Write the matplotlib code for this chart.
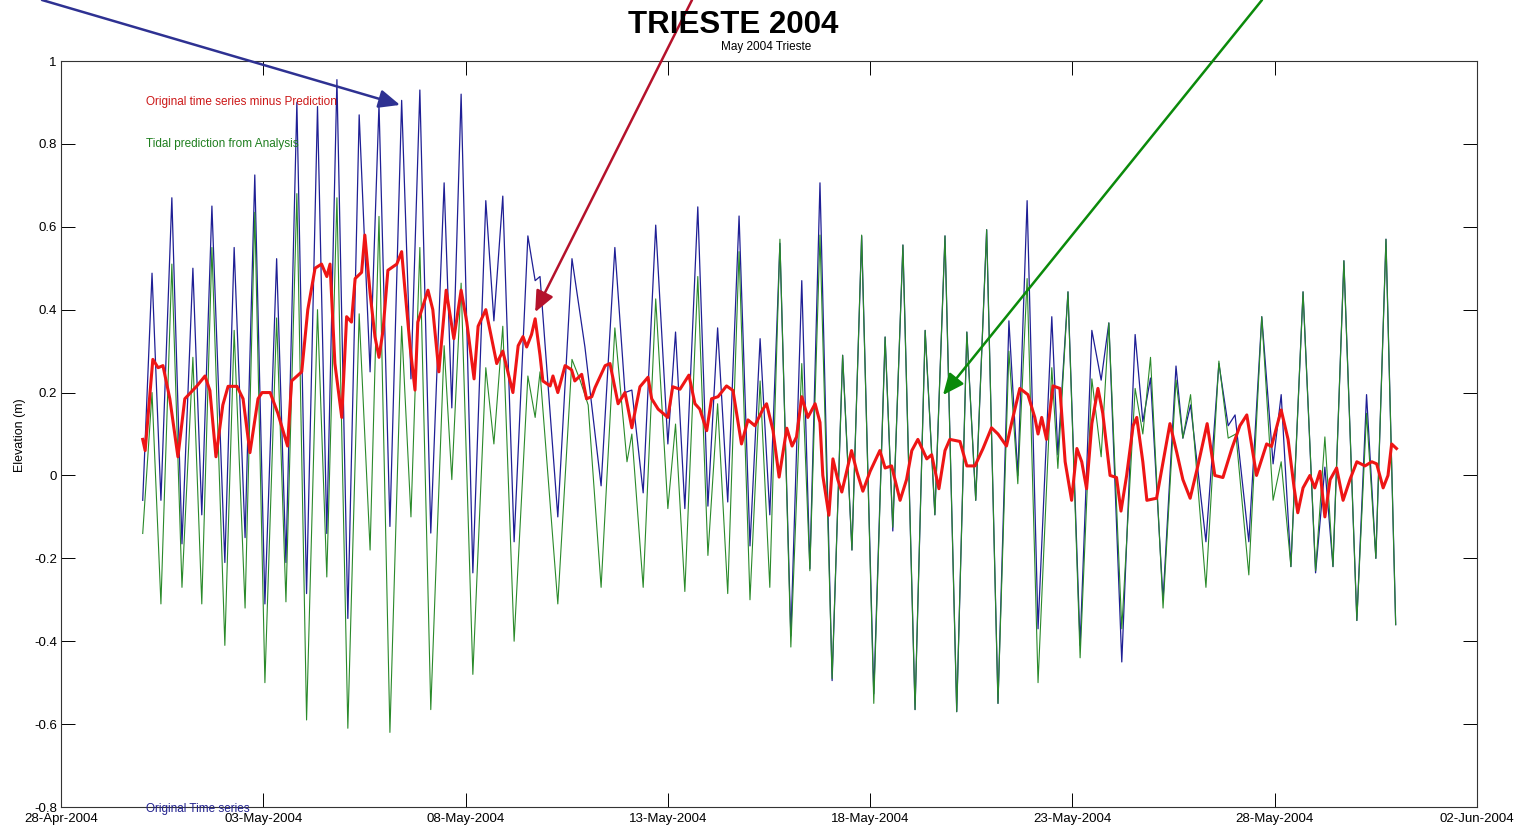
import matplotlib
matplotlib.use("Agg")
import matplotlib.pyplot as plt
import matplotlib.dates as mdates
import numpy as np
from datetime import datetime

# ---------------- data (time in days since 01-May-2004 00:00, elevation in m) -------------
START = datetime(2004, 5, 1)

tidal_prediction = [
    (-0.98, -0.14), (-0.75, 0.20), (-0.53, -0.31), (-0.26, 0.51), (-0.01, -0.27), (0.26, 0.285),
    (0.48, -0.31), (0.73, 0.55), (1.05, -0.41), (1.28, 0.35), (1.55, -0.32), (1.79, 0.635),
    (2.04, -0.50), (2.33, 0.38), (2.56, -0.305), (2.83, 0.68), (3.07, -0.59), (3.34, 0.40),
    (3.57, -0.245), (3.82, 0.67), (4.09, -0.61), (4.37, 0.39), (4.64, -0.18), (4.86, 0.625),
    (5.13, -0.62), (5.42, 0.36), (5.65, -0.10), (5.87, 0.55), (6.14, -0.565), (6.47, 0.313),
    (6.66, -0.01), (6.89, 0.464), (7.18, -0.48), (7.50, 0.26), (7.70, 0.076), (7.92, 0.36),
    (8.20, -0.40), (8.54, 0.24), (8.72, 0.14), (8.84, 0.25), (9.28, -0.31), (9.63, 0.28),
    (9.83, 0.23), (10.03, 0.17), (10.35, -0.27), (10.69, 0.356), (10.99, 0.033), (11.11, 0.10),
    (11.39, -0.27), (11.70, 0.426), (12.00, -0.08), (12.19, 0.124), (12.42, -0.28), (12.74, 0.48),
    (12.99, -0.193), (13.23, 0.173), (13.48, -0.285), (13.76, 0.54), (14.03, -0.30), (14.28, 0.228),
    (14.52, -0.27), (14.77, 0.57), (15.04, -0.414), (15.31, 0.27), (15.51, -0.23), (15.76, 0.58),
    (16.06, -0.49), (16.32, 0.29), (16.55, -0.18), (16.79, 0.58), (17.09, -0.55), (17.37, 0.334),
    (17.56, -0.125), (17.81, 0.556), (18.11, -0.565), (18.36, 0.35), (18.60, -0.095), (18.85, 0.578),
    (19.14, -0.57), (19.39, 0.346), (19.61, -0.06), (19.88, 0.593), (20.16, -0.55), (20.43, 0.30),
    (20.65, -0.02), (20.88, 0.475), (21.15, -0.50), (21.49, 0.26), (21.64, 0.017), (21.89, 0.443),
    (22.19, -0.44), (22.48, 0.233), (22.71, 0.045), (22.90, 0.368), (23.22, -0.37), (23.55, 0.21),
    (23.74, 0.10), (23.93, 0.285), (24.24, -0.32), (24.56, 0.23), (24.73, 0.09), (24.92, 0.195),
    (25.30, -0.27), (25.62, 0.276), (25.85, 0.09), (26.04, 0.10), (26.36, -0.24), (26.68, 0.383),
    (26.96, -0.06), (27.16, 0.033), (27.40, -0.22), (27.70, 0.443), (28.01, -0.23), (28.24, 0.093),
    (28.44, -0.22), (28.71, 0.518), (29.03, -0.35), (29.27, 0.15), (29.50, -0.20), (29.75, 0.57),
    (29.99, -0.36),
]

original_series = [
    (-0.98, -0.06), (-0.75, 0.488), (-0.53, -0.06), (-0.26, 0.67), (-0.01, -0.165), (0.26, 0.50),
    (0.48, -0.095), (0.73, 0.65), (1.05, -0.21), (1.28, 0.55), (1.55, -0.15), (1.79, 0.725),
    (2.04, -0.31), (2.33, 0.523), (2.56, -0.21), (2.83, 0.90), (3.07, -0.285), (3.34, 0.89),
    (3.57, -0.14), (3.82, 0.955), (4.09, -0.345), (4.37, 0.87), (4.64, 0.25), (4.86, 0.895),
    (5.13, -0.123), (5.42, 0.905), (5.65, 0.233), (5.87, 0.93), (6.14, -0.139), (6.47, 0.706),
    (6.66, 0.163), (6.89, 0.92), (7.18, -0.235), (7.50, 0.663), (7.70, 0.373), (7.92, 0.674),
    (8.20, -0.16), (8.54, 0.578), (8.72, 0.47), (8.84, 0.48), (9.28, -0.10), (9.63, 0.523),
    (9.95, 0.31), (10.35, -0.025), (10.69, 0.55), (10.94, 0.20), (11.11, 0.206), (11.39, -0.042),
    (11.70, 0.604), (12.00, 0.076), (12.19, 0.346), (12.42, -0.08), (12.74, 0.648), (12.99, -0.074),
    (13.23, 0.356), (13.48, -0.064), (13.76, 0.626), (14.03, -0.17), (14.28, 0.33), (14.52, -0.095),
    (14.77, 0.56), (15.04, -0.387), (15.31, 0.47), (15.51, -0.225), (15.76, 0.706), (16.06, -0.495),
    (16.32, 0.29), (16.55, -0.18), (16.79, 0.578), (17.09, -0.527), (17.37, 0.334), (17.56, -0.134),
    (17.81, 0.556), (18.11, -0.565), (18.36, 0.35), (18.60, -0.095), (18.85, 0.578), (19.14, -0.57),
    (19.39, 0.346), (19.61, -0.06), (19.88, 0.593), (20.16, -0.55), (20.43, 0.373), (20.65, 0.0),
    (20.88, 0.663), (21.15, -0.37), (21.49, 0.383), (21.64, 0.05), (21.89, 0.443), (22.19, -0.41),
    (22.48, 0.35), (22.71, 0.23), (22.90, 0.368), (23.22, -0.45), (23.55, 0.34), (23.74, 0.13),
    (23.93, 0.235), (24.24, -0.30), (24.56, 0.264), (24.73, 0.09), (24.92, 0.17), (25.30, -0.16),
    (25.62, 0.27), (25.85, 0.12), (26.02, 0.146), (26.36, -0.16), (26.68, 0.383), (26.96, 0.028),
    (27.16, 0.195), (27.40, -0.22), (27.70, 0.443), (28.01, -0.235), (28.24, 0.02), (28.44, -0.22),
    (28.71, 0.518), (29.03, -0.35), (29.27, 0.195), (29.50, -0.20), (29.75, 0.57), (29.99, -0.36),
]

residual = [
    (-0.98, 0.087), (-0.92, 0.06), (-0.73, 0.28), (-0.60, 0.26), (-0.48, 0.265), (-0.31, 0.185),
    (-0.11, 0.045), (0.06, 0.185), (0.36, 0.216), (0.56, 0.24), (0.68, 0.205), (0.83, 0.045),
    (1.00, 0.17), (1.13, 0.215), (1.35, 0.215), (1.50, 0.185), (1.67, 0.055), (1.87, 0.185),
    (1.97, 0.20), (2.17, 0.20), (2.36, 0.15), (2.60, 0.071), (2.70, 0.228), (2.95, 0.25),
    (3.10, 0.40), (3.28, 0.50), (3.44, 0.51), (3.57, 0.48), (3.65, 0.51), (3.77, 0.27),
    (3.94, 0.14), (4.06, 0.383), (4.18, 0.37), (4.27, 0.475), (4.43, 0.49), (4.51, 0.58),
    (4.64, 0.44), (4.76, 0.335), (4.86, 0.285), (4.96, 0.35), (5.08, 0.495), (5.30, 0.51),
    (5.42, 0.54), (5.50, 0.45), (5.63, 0.31), (5.75, 0.206), (5.82, 0.37), (6.07, 0.447),
    (6.19, 0.40), (6.34, 0.25), (6.52, 0.447), (6.71, 0.33), (6.89, 0.447), (7.03, 0.37),
    (7.21, 0.233), (7.31, 0.36), (7.50, 0.40), (7.77, 0.27), (7.92, 0.30), (8.17, 0.20),
    (8.30, 0.313), (8.42, 0.335), (8.51, 0.31), (8.63, 0.34), (8.72, 0.378), (8.84, 0.29),
    (8.91, 0.228), (9.09, 0.216), (9.16, 0.24), (9.28, 0.20), (9.46, 0.265), (9.62, 0.255),
    (9.70, 0.228), (9.87, 0.244), (9.99, 0.185), (10.12, 0.19), (10.20, 0.212), (10.45, 0.265),
    (10.57, 0.27), (10.77, 0.173), (10.94, 0.20), (11.11, 0.115), (11.31, 0.214), (11.51, 0.237),
    (11.60, 0.185), (11.76, 0.16), (11.88, 0.15), (12.00, 0.14), (12.12, 0.214), (12.30, 0.208),
    (12.52, 0.242), (12.67, 0.173), (12.79, 0.16), (12.96, 0.108), (13.08, 0.185), (13.24, 0.19),
    (13.45, 0.216), (13.61, 0.205), (13.82, 0.076), (13.98, 0.134), (14.15, 0.12), (14.35, 0.16),
    (14.44, 0.173), (14.60, 0.108), (14.75, -0.004), (14.94, 0.114), (15.07, 0.071), (15.18, 0.093),
    (15.31, 0.19), (15.46, 0.14), (15.64, 0.173), (15.76, 0.128), (15.83, 0.0), (15.98, -0.096),
    (16.08, 0.04), (16.20, -0.01), (16.30, -0.04), (16.42, 0.01), (16.54, 0.06), (16.67, 0.01),
    (16.82, -0.038), (17.00, 0.01), (17.24, 0.06), (17.37, 0.018), (17.53, 0.023), (17.74, -0.06),
    (17.90, -0.01), (18.03, 0.06), (18.18, 0.087), (18.40, 0.04), (18.52, 0.05), (18.70, -0.032),
    (18.85, 0.06), (18.97, 0.087), (19.22, 0.082), (19.39, 0.023), (19.59, 0.023), (19.79, 0.065),
    (20.00, 0.115), (20.16, 0.10), (20.37, 0.071), (20.50, 0.128), (20.70, 0.21), (20.90, 0.195),
    (21.07, 0.14), (21.15, 0.10), (21.24, 0.14), (21.36, 0.087), (21.52, 0.216), (21.69, 0.21),
    (21.82, 0.033), (21.98, -0.06), (22.11, 0.065), (22.23, 0.033), (22.35, -0.032), (22.48, 0.125),
    (22.63, 0.21), (22.75, 0.15), (22.93, 0.0), (23.09, -0.005), (23.20, -0.086), (23.34, 0.0),
    (23.50, 0.12), (23.59, 0.14), (23.74, 0.033), (23.84, -0.06), (24.08, -0.055), (24.24, 0.033),
    (24.41, 0.125), (24.58, 0.055), (24.73, -0.01), (24.91, -0.055), (25.10, 0.023), (25.33, 0.125),
    (25.52, 0.0), (25.72, -0.005), (25.94, 0.065), (26.14, 0.12), (26.31, 0.146), (26.55, 0.0),
    (26.80, 0.076), (26.92, 0.07), (27.16, 0.158), (27.33, 0.087), (27.48, -0.03), (27.57, -0.09),
    (27.70, -0.03), (27.87, 0.0), (27.99, -0.03), (28.12, 0.01), (28.24, -0.10), (28.37, -0.01),
    (28.53, 0.018), (28.69, -0.06), (28.86, -0.01), (29.03, 0.033), (29.23, 0.023), (29.40, 0.033),
    (29.52, 0.028), (29.68, -0.03), (29.80, 0.0), (29.89, 0.076), (30.01, 0.065),
]

x_tick_labels = ["28-Apr-2004", "03-May-2004", "08-May-2004", "13-May-2004",
                 "18-May-2004", "23-May-2004", "28-May-2004", "02-Jun-2004"]
y_tick_values = [-0.8, -0.6, -0.4, -0.2, 0, 0.2, 0.4, 0.6, 0.8, 1]
y_tick_labels = ["-0.8", "-0.6", "-0.4", "-0.2", "0", "0.2", "0.4", "0.6", "0.8", "1"]

# annotation arrow tips (time, elevation) pointing at each series
arrow_tips = {"orig": (5.38, 0.894), "resid": (8.72, 0.394), "tide": (18.80, 0.194)}

# ---------------- drawing ----------------
FONT = ["Liberation Sans", "DejaVu Sans"]
plt.rcParams["font.family"] = FONT

base = mdates.date2num(START)


def to_xy(pairs):
    arr = np.array(pairs, dtype=float)
    return base + arr[:, 0], arr[:, 1]


fig = plt.figure(figsize=(15.19, 8.27), dpi=100, facecolor="white")
ax = fig.add_axes([61 / 1519, 1 - 807 / 827, (1477 - 61) / 1519, (807 - 61) / 827])

BLUE = "#1f1f95"
GREEN = "#2a8a2a"
RED = "#ee1515"

xo, yo = to_xy(original_series)
xg, yg = to_xy(tidal_prediction)
xr, yr = to_xy(residual)
ax.plot(xo, yo, color=BLUE, lw=0.9, zorder=2, solid_joinstyle="round")
ax.plot(xg, yg, color=GREEN, lw=0.8, zorder=3, solid_joinstyle="round")
ax.plot(xr, yr, color=RED, lw=2.2, zorder=4, solid_joinstyle="round")

tick_dates = [mdates.date2num(datetime.strptime(s, "%d-%b-%Y")) for s in x_tick_labels]
ax.set_xlim(tick_dates[0], tick_dates[-1])
ax.set_xticks(tick_dates)
ax.set_xticklabels(x_tick_labels)
ax.set_ylim(y_tick_values[0], y_tick_values[-1])
ax.set_yticks(y_tick_values)
ax.set_yticklabels(y_tick_labels)

ax.tick_params(direction="in", length=10, width=0.7, top=True, right=True,
               labelsize=9.5, colors="black")
ax.tick_params(axis="x", pad=4)
ax.tick_params(axis="y", pad=3)
for sp in ax.spines.values():
    sp.set_linewidth(0.8)
    sp.set_color("#333333")

# texts
fig.text(733 / 1519, 1 - 25 / 827, "TRIESTE 2004", ha="center", va="center",
         fontsize=22.5, fontweight="bold", color="black")
fig.text(766 / 1519, 1 - 47 / 827, "May 2004 Trieste", ha="center", va="center",
         fontsize=8.5, color="black")
fig.text(20 / 1519, 1 - 435 / 827, "Elevation (m)", rotation=90, ha="center", va="center",
         fontsize=9)
fig.text(146 / 1519, 1 - 102 / 827, "Original time series minus Prediction",
         ha="left", va="center", fontsize=8.5, color="#cc1818")
fig.text(146 / 1519, 1 - 144 / 827, "Tidal prediction from Analysis",
         ha="left", va="center", fontsize=8.5, color="#1f7f1f")
fig.text(146 / 1519, 1 - 809 / 827, "Original Time series",
         ha="left", va="center", fontsize=8.5, color="#22228f", zorder=10)

# arrows from the top edge of the figure
arrow_style = "-|>,head_length=0.8,head_width=0.35"
for key, start, col in [("orig", (42 / 1519, 1.0), "#2e3192"),
                        ("resid", (692 / 1519, 1.0), "#b5122b"),
                        ("tide", (1262 / 1519, 1.0), "#0b8a0b")]:
    tx, ty = arrow_tips[key]
    ax.annotate("", xy=(base + tx, ty), xycoords="data",
                xytext=start, textcoords="figure fraction",
                arrowprops=dict(arrowstyle=arrow_style, color=col, lw=1.8,
                                mutation_scale=16, shrinkA=0, shrinkB=0),
                annotation_clip=False, zorder=6)

fig.savefig("out.png", dpi=100, facecolor="white")
